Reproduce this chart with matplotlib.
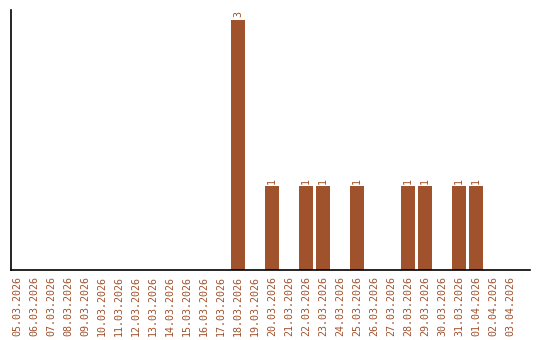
import matplotlib
matplotlib.use("Agg")
import matplotlib.pyplot as plt

dates = ["05.03.2026", "06.03.2026", "07.03.2026", "08.03.2026", "09.03.2026",
         "10.03.2026", "11.03.2026", "12.03.2026", "13.03.2026", "14.03.2026",
         "15.03.2026", "16.03.2026", "17.03.2026", "18.03.2026", "19.03.2026",
         "20.03.2026", "21.03.2026", "22.03.2026", "23.03.2026", "24.03.2026",
         "25.03.2026", "26.03.2026", "27.03.2026", "28.03.2026", "29.03.2026",
         "30.03.2026", "31.03.2026", "01.04.2026", "02.04.2026", "03.04.2026"]
counts = [0, 0, 0, 0, 0, 0, 0, 0, 0, 0, 0, 0, 0, 3, 0,
          1, 0, 1, 1, 0, 1, 0, 0, 1, 1, 0, 1, 1, 0, 0]

color = "#A0522D"
fig = plt.figure(figsize=(5.4, 3.4), dpi=100)
ax = fig.add_axes([11/540, 1 - 269.5/340, (530 - 11)/540, (269.5 - 10)/340])

x = list(range(len(dates)))
bars = ax.bar(x, counts, width=0.82, color=color)
for xi, v in zip(x, counts):
    if v > 0:
        ax.text(xi, v + 0.03, str(v), rotation=90, ha="center", va="bottom",
                color=color, fontsize=7.2, family="DejaVu Sans Mono")

ax.set_xlim(-0.35, 30.18)
ax.set_ylim(0, 3.12)
ax.set_xticks(x)
ax.set_xticklabels(dates, rotation=90, color=color, fontsize=7.2,
                   family="DejaVu Sans Mono")
ax.tick_params(axis="x", length=0, pad=5)
ax.set_yticks([])
for s in ["top", "right"]:
    ax.spines[s].set_visible(False)
for s in ["left", "bottom"]:
    ax.spines[s].set_linewidth(1.2)
    ax.spines[s].set_color("black")

fig.savefig("out.png", dpi=100)
